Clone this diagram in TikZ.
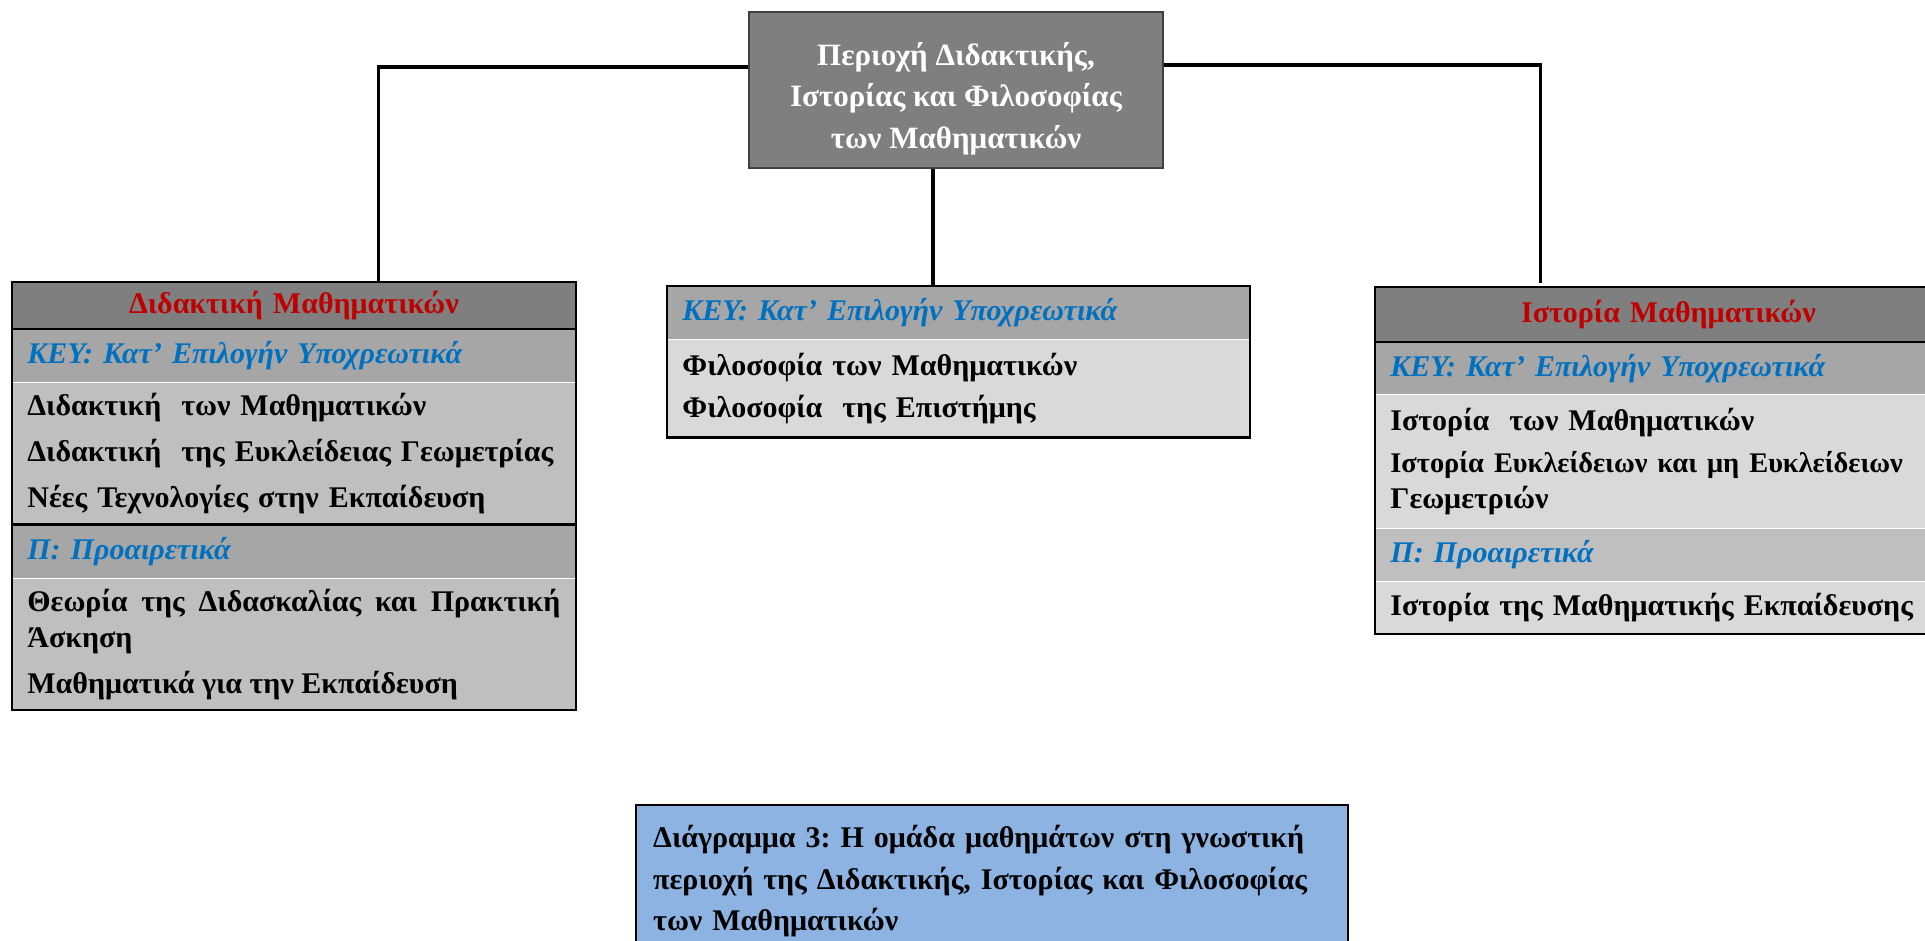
\documentclass[tikz,border=0pt]{standalone}
\usepackage{fontspec}
\setmainfont{Liberation Serif}
\usepackage{tikz}
\usetikzlibrary{positioning, calc, fit}
\usepackage{xcolor}
\definecolor{areaGray}{RGB}{127, 127, 127}
\definecolor{keyGray}{RGB}{166, 166, 166}
\definecolor{midGray}{RGB}{191, 191, 191}
\definecolor{lightGray}{RGB}{217, 217, 217}
\definecolor{capBlue}{RGB}{141, 179, 226}
\definecolor{keyBlue}{RGB}{0, 112, 192}
\definecolor{headRed}{RGB}{192, 0, 0}
\frenchspacing

\begin{document}
\begin{tikzpicture}[
    x=0.5pt, y=-0.5pt,
    every node/.style={font=\fontsize{15}{18}\selectfont\bfseries},
    area/.style={rectangle, draw=black!75, line width=0.8pt, fill=areaGray, text=white, align=center, minimum width=207pt, minimum height=78pt, font=\fontsize{15.5}{20.75}\selectfont\bfseries},
    row/.style={rectangle, inner xsep=7.5pt, inner ysep=0pt, align=left},
    headrow/.style={row, anchor=north west, fill=areaGray, text=headRed, align=center},
    keyrow/.style={row, fill=keyGray, text=keyBlue, font=\fontsize{15}{18}\selectfont\bfseries\itshape},
    itemrow/.style={row, text=black},
    frame/.style={rectangle, draw=black, line width=1.2pt, inner sep=0pt},
    sep/.style={draw=black, line width=1.2pt},
    link/.style={draw=black, line width=1.8pt},
    caption/.style={rectangle, draw=black, line width=1.2pt, fill=capBlue, anchor=north west, inner xsep=8.5pt, text width=339pt, minimum height=76pt, align=left, font=\fontsize{15}{20.75}\selectfont\bfseries},
]
\useasboundingbox (0,0) rectangle (1925,941);
\node[area] (area) at (956,90) {\strut\\[-15pt] Περιοχή Διδακτικής,\\ Ιστορίας και Φιλοσοφίας\\ των Μαθηματικών};
% Didactics
\begin{scope}[every node/.append style={text width=266.5pt}]
\node[headrow, minimum height=23pt] (dhead) at (12,282) {Διδακτική Μαθηματικών};
\node[keyrow, minimum height=26.5pt, below=0pt of dhead] (dkey) {ΚΕΥ: Κατ’ Επιλογήν Υποχρεωτικά};
\node[itemrow, fill=midGray, minimum height=70.5pt, below=0pt of dkey] (ditems) {Διδακτική~ των Μαθηματικών\\[5pt] Διδακτική~ της Ευκλείδειας Γεωμετρίας\\[5pt] Νέες Τεχνολογίες στην Εκπαίδευση};
\node[keyrow, minimum height=26.5pt, below=0pt of ditems] (dopt) {Π: Προαιρετικά};
\node[itemrow, fill=midGray, minimum height=65.5pt, align=justify, below=0pt of dopt] (doptitems) {Θεωρία της Διδασκαλίας και Πρακτική Άσκηση\\[5pt] Μαθηματικά για την Εκπαίδευση};
\end{scope}
% Philosophy
\begin{scope}[every node/.append style={text width=276pt}]
\node[keyrow, anchor=north west, minimum height=26.5pt] (fkey) at (667,286) {ΚΕΥ: Κατ’ Επιλογήν Υποχρεωτικά};
\node[itemrow, fill=lightGray, minimum height=48.5pt, below=0pt of fkey] (fitems) {Φιλοσοφία των Μαθηματικών\\[3pt] Φιλοσοφία~ της Επιστήμης};
\end{scope}
% History
\begin{scope}[every node/.append style={text width=278pt}]
\node[headrow, minimum height=27pt] (ihead) at (1375,287) {Ιστορία Μαθηματικών};
\node[keyrow, minimum height=26pt, below=0pt of ihead] (ikey) {ΚΕΥ: Κατ’ Επιλογήν Υποχρεωτικά};
\node[itemrow, fill=lightGray, minimum height=66.5pt, below=0pt of ikey] (iitems) {Ιστορία~ των Μαθηματικών\\[3pt] {\fontsize{14.2}{18}\selectfont Ιστορία Ευκλείδειων και μη Ευκλείδειων}\\ Γεωμετριών};
\node[keyrow, fill=midGray, minimum height=26pt, below=0pt of iitems] (iopt) {Π: Προαιρετικά};
\node[itemrow, fill=lightGray, minimum height=26pt, below=0pt of iopt] (ioptitems) {Ιστορία της Μαθηματικής Εκπαίδευσης};
\end{scope}
\draw[sep] (dhead.south west) -- (dhead.south east);
\draw[sep] (ditems.south west) -- (ditems.south east);
\draw[sep] (ihead.south west) -- (ihead.south east);
\node[frame, fit=(dhead)(doptitems)] (dframe) {};
\node[frame, fit=(fkey)(fitems)] (fframe) {};
\node[frame, fit=(ihead)(ioptitems)] (iframe) {};
% links
\coordinate (ljoin) at ($(dhead.north)+(84.5,0)$);
\coordinate (mjoin) at ($(area.south)+(-23,0)$);
\coordinate (rjoin) at ($(ihead.north)+(-128,-4)$);
\draw[link] ($(area.west)+(0,-23)$) -| (ljoin);
\draw[link] (mjoin) -- (mjoin |- fframe.north);
\draw[link] ($(area.east)+(0,-25)$) -| (rjoin);
\node[caption] (cap) at (635,804) {Διάγραμμα 3: Η ομάδα μαθημάτων στη γνωστική\\ περιοχή της Διδακτικής, Ιστορίας και Φιλοσοφίας\\ των Μαθηματικών};
\end{tikzpicture}
\end{document}
